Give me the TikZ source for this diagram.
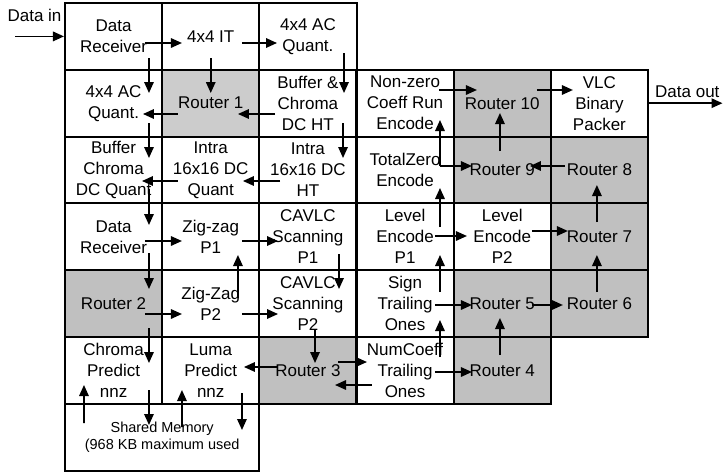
\documentclass[tikz,border=0pt]{standalone}
\usepackage{fontspec}
\setmainfont{Liberation Sans}
\usetikzlibrary{arrows.meta}
\definecolor{rtgray}{HTML}{C0C0C0}
\definecolor{rtlight}{HTML}{CCCCCC}
\begin{document}
\begin{tikzpicture}[x=1pt,y=-1pt,
  cell/.style={draw=black, line width=2pt, minimum width=97.17pt, minimum height=66.8pt,
    inner sep=0pt, align=center, font=\fontsize{17}{21}\selectfont, text=black},
  router/.style={cell, fill=rtgray},
  arr/.style={line width=1.6pt, -{Triangle[length=11pt,width=9.5pt]}},
  lbl/.style={inner sep=0pt, font=\fontsize{17}{21}\selectfont}]
\useasboundingbox (0,0) rectangle (723,474);
% left group
\node[cell] (dr1) at (113.58,36.4) {Data\\Receiver};
\node[cell] (it) at (210.75,36.4) {4x4 IT};
\node[cell] (acq1) at (307.92,36.4) {4x4 AC\\Quant.};
\node[cell] (acq2) at (113.58,103.2) {4x4 AC\\Quant.};
\node[cell, fill=rtlight] (r1) at (210.75,103.2) {Router 1};
\node[cell] (buf) at (307.92,103.2) {Buffer \&\\Chroma\\DC HT};
\node[cell] (bcq) at (113.58,170) {Buffer\\Chroma\\DC Quant};
\node[cell] (iq) at (210.75,170) {Intra\\16x16 DC\\Quant};
\node[cell] (iht) at (307.92,170) {Intra\\16x16 DC\\HT};
\node[cell] (dr2) at (113.58,236.8) {Data\\Receiver};
\node[cell] (zz1) at (210.75,236.8) {Zig-zag\\P1};
\node[cell] (cs1) at (307.92,236.8) {CAVLC\\Scanning\\P1};
\node[router] (rt2) at (113.58,303.6) {Router 2};
\node[cell] (zz2) at (210.75,303.6) {Zig-Zag\\P2};
\node[cell] (cs2) at (307.92,303.6) {CAVLC\\Scanning\\P2};
\node[cell] (cp) at (113.58,370.4) {Chroma\\Predict\\nnz};
\node[cell] (lp) at (210.75,370.4) {Luma\\Predict\\nnz};
\node[router] (rt3) at (307.92,370.4) {Router 3};
\node[cell, minimum width=194.34pt, font=\fontsize{14.5}{17}\selectfont] (sm) at (162.17,437.2) {Shared Memory\\(968 KB maximum used};
% right group
\node[cell] (nz) at (405.08,103.2) {Non-zero\\Coeff Run\\Encode};
\node[router] (r10) at (502.25,103.2) {Router 10};
\node[cell] (vlc) at (599.42,103.2) {VLC\\Binary\\Packer};
\node[cell] (tz) at (405.08,170) {TotalZero\\Encode};
\node[router] (r9) at (502.25,170) {Router 9};
\node[router] (r8) at (599.42,170) {Router 8};
\node[cell] (le1) at (405.08,236.8) {Level\\Encode\\P1};
\node[cell] (le2) at (502.25,236.8) {Level\\Encode\\P2};
\node[router] (r7) at (599.42,236.8) {Router 7};
\node[cell] (st) at (405.08,303.6) {Sign\\Trailing\\Ones};
\node[router] (r5) at (502.25,303.6) {Router 5};
\node[router] (r6) at (599.42,303.6) {Router 6};
\node[cell] (nc) at (405.08,370.4) {NumCoeff\\Trailing\\Ones};
\node[router] (r4) at (502.25,370.4) {Router 4};
% labels
\node[lbl] (din) at (34.5,15) {Data in};
\node[lbl, anchor=west] (dout) at (655,92) {Data out};
\coordinate (inpt) at (15,36.4);
\coordinate (outpt) at (722.5,103.2);
% arrows left group
\draw[arr] (inpt) -- (dr1.west);
\draw[arr] ([shift={(31.4,6.6)}]dr1.center) -- ([shift={(-28.8,6.6)}]it.center);
\draw[arr] ([shift={(31.2,6.6)}]it.center) -- ([shift={(-30.9,6.6)}]acq1.center);
\draw[arr] ([shift={(35.4,21.6)}]dr1.center) -- ([shift={(35.4,-10.2)}]acq2.center);
\draw[arr] ([shift={(0,21.6)}]it.center) -- ([shift={(0,-10.2)}]r1.center);
\draw[arr] ([shift={(36.1,16.6)}]acq1.center) -- ([shift={(36.1,-10.2)}]buf.center);
\draw[arr] ([shift={(-32.8,10.8)}]r1.center) -- ([shift={(29.4,10.8)}]acq2.center);
\draw[arr] ([shift={(-32.9,10.8)}]buf.center) -- ([shift={(27.2,10.8)}]r1.center);
\draw[arr] ([shift={(35.4,19.8)}]acq2.center) -- ([shift={(35.4,-12)}]bcq.center);
\draw[arr] ([shift={(35.1,19.8)}]buf.center) -- ([shift={(35.1,-12)}]iht.center);
\draw[arr] ([shift={(-27.9,11)}]iht.center) -- ([shift={(32.2,11)}]iq.center);
\draw[arr] ([shift={(-32.8,11)}]iq.center) -- ([shift={(28.4,11)}]bcq.center);
\draw[arr] ([shift={(35.4,19)}]bcq.center) -- ([shift={(35.4,-11.8)}]dr2.center);
\draw[arr] ([shift={(31.4,4.2)}]dr2.center) -- ([shift={(-28.8,4.2)}]zz1.center);
\draw[arr] ([shift={(31.2,4.2)}]zz1.center) -- ([shift={(-29.9,4.2)}]cs1.center);
\draw[arr] ([shift={(35.4,16.2)}]dr2.center) -- ([shift={(35.4,-14.6)}]rt2.center);
\draw[arr] ([shift={(31.1,17.2)}]cs1.center) -- ([shift={(31.1,-14.6)}]cs2.center);
\draw[arr] ([shift={(27.2,-5.6)}]zz2.center) -- ([shift={(27.2,18.2)}]zz1.center);
\draw[arr] ([shift={(31.4,10.4)}]rt2.center) -- ([shift={(-28.8,10.4)}]zz2.center);
\draw[arr] ([shift={(31.2,10.4)}]zz2.center) -- ([shift={(-29.9,10.4)}]cs2.center);
\draw[arr] ([shift={(35.4,24.4)}]rt2.center) -- ([shift={(35.4,-7.4)}]cp.center);
\draw[arr] ([shift={(7.1,26.4)}]cs2.center) -- ([shift={(7.1,-7.4)}]rt3.center);
\draw[arr] ([shift={(-30.9,-3.4)}]rt3.center) -- ([shift={(33.2,-3.4)}]lp.center);
\draw[arr] ([shift={(30.1,-8.4)}]rt3.center) -- ([shift={(-38.1,-8.4)}]nc.center);
\draw[arr] ([shift={(-33.1,14.6)}]nc.center) -- ([shift={(27.1,14.6)}]rt3.center);
\draw[arr] ([shift={(-78.2,-14.2)}]sm.center) -- ([shift={(-29.6,14.6)}]cp.center);
\draw[arr] ([shift={(35.4,19.6)}]cp.center) -- ([shift={(-13.2,-12.2)}]sm.center);
\draw[arr] ([shift={(19.8,-10.2)}]sm.center) -- ([shift={(-28.8,19.6)}]lp.center);
\draw[arr] ([shift={(31.2,22.6)}]lp.center) -- ([shift={(79.8,-7.2)}]sm.center);
% arrows right group
\draw[arr] ([shift={(33.9,-13.2)}]nz.center) -- ([shift={(-25.3,-13.2)}]r10.center);
\draw[arr] ([shift={(34.7,-13.2)}]r10.center) -- ([shift={(-26.5,-13.2)}]vlc.center);
\draw[arr] (vlc.east) -- (outpt);
\draw[arr] ([shift={(34.9,-4)}]tz.center) -- ([shift={(34.9,16.8)}]nz.center);
\draw[arr] ([shift={(-2.3,-19)}]r9.center) -- ([shift={(-2.3,9.8)}]r10.center);
\draw[arr] ([shift={(34.9,-4)}]tz.center) -- ([shift={(-30.3,-4)}]r9.center);
\draw[arr] ([shift={(-34.5,-4)}]r8.center) -- ([shift={(27.7,-4)}]r9.center);
\draw[arr] ([shift={(-2.5,-14.8)}]r7.center) -- ([shift={(-2.5,15)}]r8.center);
\draw[arr] ([shift={(34.9,-9.8)}]le1.center) -- ([shift={(34.9,18)}]tz.center);
\draw[arr] ([shift={(29.9,-0.8)}]le1.center) -- ([shift={(-35.3,-0.8)}]le2.center);
\draw[arr] ([shift={(29.7,-5.8)}]le2.center) -- ([shift={(-31.5,-5.8)}]r7.center);
\draw[arr] ([shift={(-2.5,-11.6)}]r6.center) -- ([shift={(-2.5,18.2)}]r7.center);
\draw[arr] ([shift={(34.9,-11.6)}]st.center) -- ([shift={(34.9,18.2)}]le1.center);
\draw[arr] ([shift={(29.9,1.4)}]st.center) -- ([shift={(-30.3,1.4)}]r5.center);
\draw[arr] ([shift={(29.7,1.4)}]r5.center) -- ([shift={(-36.5,1.4)}]r6.center);
\draw[arr] ([shift={(34.9,-13.4)}]nc.center) -- ([shift={(34.9,16.4)}]st.center);
\draw[arr] ([shift={(-2.3,-15.4)}]r4.center) -- ([shift={(-2.3,14.4)}]r5.center);
\draw[arr] ([shift={(29.9,1.6)}]nc.center) -- ([shift={(-30.3,1.6)}]r4.center);
\end{tikzpicture}
\end{document}
